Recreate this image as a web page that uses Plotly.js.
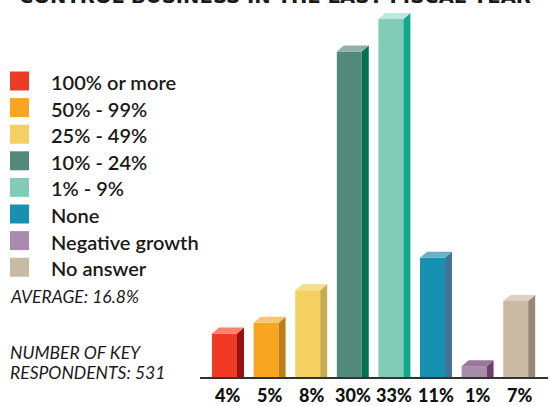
<!DOCTYPE html>
<html>
<head>
<meta charset="utf-8">
<script src="https://cdn.plot.ly/plotly-3.0.1.min.js"></script>
<style>html,body{margin:0;padding:0;background:#fff;}#chart{width:550px;height:406px;}</style>
</head>
<body>
<div id="chart"></div>
<script>
// ---- data ----
const categories = ['100% or more', '50% - 99%', '25% - 49%', '10% - 24%', '1% - 9%', 'None', 'Negative growth', 'No answer'];
const values = [4, 5, 8, 30, 33, 11, 1, 7];
const valueLabels = ['4%', '5%', '8%', '30%', '33%', '11%', '1%', '7%'];
const frontColors = ['#EF3A26', '#F9A51F', '#F4D062', '#53897A', '#80CCB7', '#1791B1', '#A98BAE', '#C9BAA4'];
const sideColors  = ['#9A0F12', '#BF7F18', '#C6AB50', '#00704F', '#10A88A', '#457196', '#6D3F6C', '#958877'];
const topColors   = ['#F58468', '#FBC46E', '#F6DC8C', '#8FB1A6', '#BFE6DB', '#6FADC4', '#99779D', '#DCD1C1'];
const titleText = 'CONTROL BUSINESS IN THE LAST FISCAL YEAR';
const averageText = 'AVERAGE: 16.8%';
const respondentsLines = ['NUMBER OF KEY', 'RESPONDENTS: 531'];

// ---- geometry ----
const W = 550, H = 406;
const mL = 200, mR = 2, mT = 0, mB = 29;
const plotW = W - mL - mR, plotH = H - mT - mB;
const xRange = [-0.589, -0.589 + plotW / 41.6];
const yRange = [0, plotH / 10.85];
const barW = 0.6;
const dx = 7 / 41.6;   // depth in x units
const dy = 6 / 10.85;  // depth in y units

const xs = values.map((v, i) => i);
const traces = [];
traces.push({
  type: 'bar', x: xs, y: values, width: barW,
  marker: {color: frontColors, line: {width: 0}},
  hoverinfo: 'skip', showlegend: false
});
values.forEach((v, i) => {
  const xl = i - barW / 2, xr = i + barW / 2;
  traces.push({
    type: 'scatter', mode: 'lines', fill: 'toself',
    x: [xr, xr + dx, xr + dx, xr, xr],
    y: [0, 0, v + dy, v, 0],
    fillcolor: sideColors[i], line: {width: 0, color: sideColors[i]},
    hoverinfo: 'skip', showlegend: false
  });
  traces.push({
    type: 'scatter', mode: 'lines', fill: 'toself',
    x: [xl, xr, xr + dx, xl + dx, xl],
    y: [v, v, v + dy, v + dy, v],
    fillcolor: topColors[i], line: {width: 0, color: topColors[i]},
    hoverinfo: 'skip', showlegend: false
  });
});

const px2x = p => (p - mL) / plotW;
const py2y = p => (H - mB - p) / plotH;

const shapes = [];
const annotations = [];
categories.forEach((c, i) => {
  const cy = 81 + i * 26.6;
  shapes.push({
    type: 'rect', xref: 'paper', yref: 'paper',
    x0: px2x(10), x1: px2x(29), y0: py2y(cy + 9.5), y1: py2y(cy - 9.5),
    fillcolor: frontColors[i], line: {width: 0}
  });
  annotations.push({
    xref: 'paper', yref: 'paper', x: px2x(49), y: py2y(cy + 1),
    xanchor: 'left', yanchor: 'middle', showarrow: false, text: c,
    font: {family: 'Lato, sans-serif', size: 20, color: '#1a1a1a', weight: 600}
  });
});
valueLabels.forEach((t, i) => {
  annotations.push({
    xref: 'x', yref: 'paper', x: i + 0.08, y: 0, yshift: -18,
    xanchor: 'center', yanchor: 'middle', showarrow: false, text: t,
    font: {family: 'Lato, sans-serif', size: 18, color: '#111', weight: 900}
  });
});
annotations.push({
  xref: 'paper', yref: 'paper', x: px2x(8), y: py2y(296),
  xanchor: 'left', yanchor: 'middle', showarrow: false, text: '<i>' + averageText + '</i>',
  font: {family: 'Lato, sans-serif', size: 17.5, color: '#1a1a1a', weight: 400}
});
respondentsLines.forEach((t, i) => {
  annotations.push({
    xref: 'paper', yref: 'paper', x: px2x(8), y: py2y(352 + i * 20),
    xanchor: 'left', yanchor: 'middle', showarrow: false, text: '<i>' + t + '</i>',
    font: {family: 'Lato, sans-serif', size: 17.5, color: '#1a1a1a', weight: 400}
  });
});
annotations.push({
  xref: 'paper', yref: 'paper', x: px2x(17), y: 1, yshift: -10,
  xanchor: 'left', yanchor: 'bottom', showarrow: false, text: '<b>' + titleText + '</b>',
  font: {family: 'DejaVu Sans, sans-serif', size: 19.6, color: '#1a1a1a'}
});

const layout = {
  width: W, height: H,
  margin: {l: mL, r: mR, t: mT, b: mB, pad: 0},
  paper_bgcolor: '#ffffff', plot_bgcolor: '#ffffff',
  showlegend: false,
  xaxis: {
    range: xRange, showgrid: false, zeroline: false,
    showline: true, linecolor: '#333333', linewidth: 1.5,
    showticklabels: false, ticks: '', fixedrange: true
  },
  yaxis: {
    range: yRange, showgrid: false, zeroline: false, showline: false,
    showticklabels: false, ticks: '', fixedrange: true
  },
  shapes: shapes,
  annotations: annotations
};

Plotly.newPlot('chart', traces, layout, {displayModeBar: false, staticPlot: true});
</script>
</body>
</html>
